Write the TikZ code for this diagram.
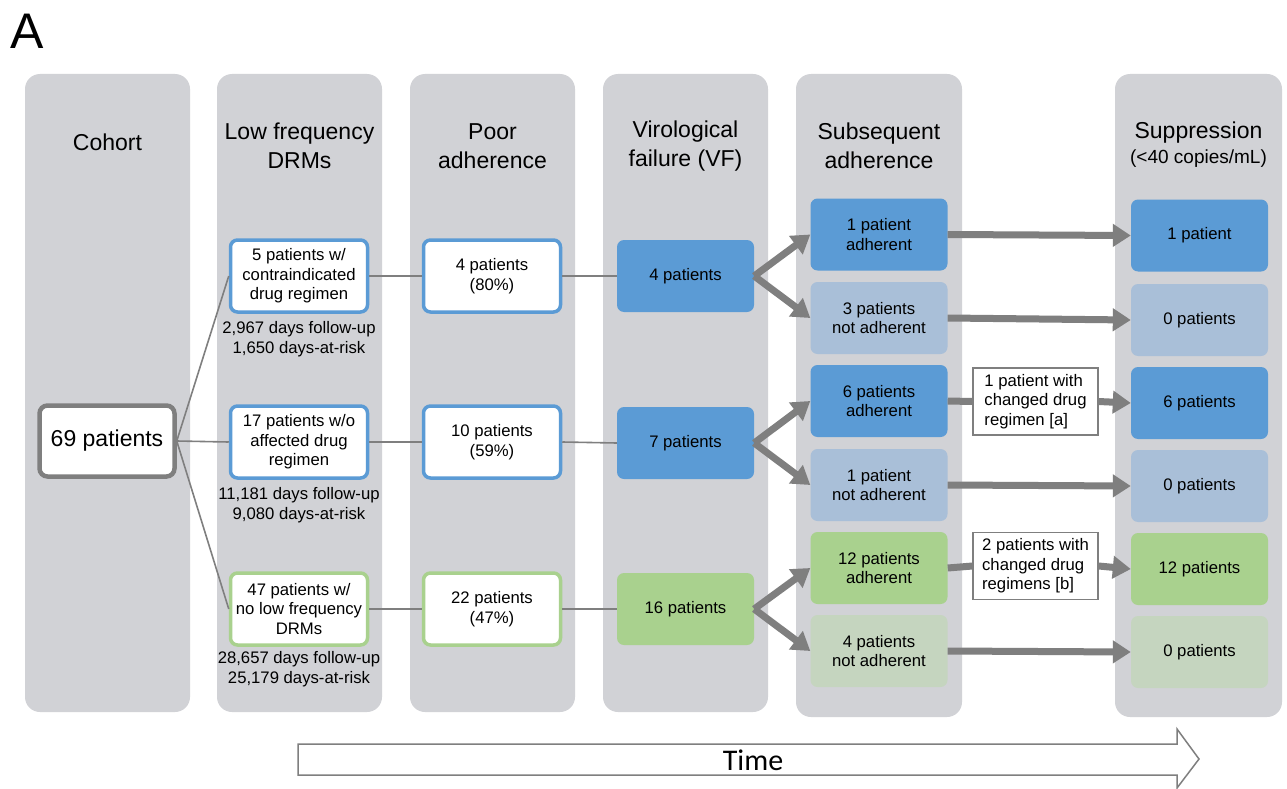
\documentclass[tikz,border=0pt]{standalone}
\usepackage{fontspec}
\setmainfont{Liberation Sans}
\newfontfamily\timefont{Carlito}
\usetikzlibrary{arrows.meta}

\definecolor{lanegray}{HTML}{D1D2D6}
\definecolor{boxblue}{HTML}{5B9BD5}
\definecolor{paleblue}{HTML}{A9BFD8}
\definecolor{boxgreen}{HTML}{A9D18E}
\definecolor{palegreen}{HTML}{C5D5BF}
\definecolor{arrgray}{HTML}{7F7F7F}

\begin{document}
\begin{tikzpicture}[x=1pt,y=-1pt,
  lane/.style={fill=lanegray, rounded corners=15pt},
  header/.style={align=center, font=\fontsize{23}{29}\selectfont},
  boxtext/.style={font=\fontsize{16.7}{19.5}\selectfont},
  wbox/.style={boxtext, draw=#1, line width=3.5pt, fill=white, rounded corners=7pt,
               minimum width=137pt, minimum height=72pt, align=center, inner sep=2pt},
  fbox/.style={boxtext, fill=#1, rounded corners=7pt,
               minimum width=137pt, minimum height=72pt, align=center},
  chgbox/.style={boxtext, draw=arrgray, line width=1.2pt, fill=white, align=left,
                 minimum width=125pt, minimum height=67pt, inner sep=2pt},
  link/.style={draw=arrgray, line width=1.6pt},
  fat/.style={draw=arrgray, line width=7pt},
  fatarrow/.style={fat, -{Triangle[length=18pt,width=22pt]}},
]
\fill[white] (0,0) rectangle (1287,789);
\useasboundingbox (0,0) rectangle (1287,789);

\node[font=\fontsize{50}{50}\selectfont] (lbl) at (27,31) {A};

% lanes
\fill[lane] (25,74) rectangle (190,712);
\fill[lane] (217,74) rectangle (382,712);
\fill[lane] (410,74) rectangle (575,712);
\fill[lane] (603,74) rectangle (768,712);
\fill[lane] (796,74) rectangle (962,717);
\fill[lane] (1115,74) rectangle (1282,717);

\node[header] (hcoh) at (107.5,142) {Cohort};
\node[header] (hlf) at (299.5,146) {Low frequency\\DRMs};
\node[header] (hpa) at (492.5,146) {Poor\\adherence};
\node[header] (hvf) at (685.5,146) {Virological\\failure (VF)};
\node[header] (hsa) at (879,146) {Subsequent\\adherence};
\node[header] (hsup) at (1198.5,145) {Suppression\\[-4pt]{\fontsize{19}{22}\selectfont(<40 copies/mL)}};

% cohort
\node[font=\fontsize{23}{27}\selectfont, draw=arrgray, line width=4.5pt, fill=white,
      rounded corners=8pt, minimum width=135pt, minimum height=71pt] (cohort) at (107,441) {69 patients};

\node[wbox=boxblue] (lf1) at (299,276) {5 patients w/\\contraindicated\\drug regimen};
\node[wbox=boxblue] (lf2) at (299,442) {17 patients w/o\\affected drug\\regimen};
\node[wbox=boxgreen] (lf3) at (299,609) {47 patients w/\\no low frequency\\DRMs};
\node[boxtext, align=center] (d1) at (299,339) {2,967 days follow-up\\1,650 days-at-risk};
\node[boxtext, align=center] (d2) at (299,505) {11,181 days follow-up\\9,080 days-at-risk};
\node[boxtext, align=center] (d3) at (299,669) {28,657 days follow-up\\25,179 days-at-risk};

\node[wbox=boxblue] (pa1) at (492,276) {4 patients\\(80\%)};
\node[wbox=boxblue] (pa2) at (492,442) {10 patients\\(59\%)};
\node[wbox=boxgreen] (pa3) at (492,609) {22 patients\\(47\%)};

\node[fbox=boxblue] (vf1) at (685.5,276) {4 patients};
\node[fbox=boxblue] (vf2) at (685.5,443) {7 patients};
\node[fbox=boxgreen] (vf3) at (685.5,609) {16 patients};

\node[fbox=boxblue] (sa1) at (879,234.5) {1 patient\\adherent};
\node[fbox=paleblue] (sa2) at (879,318) {3 patients\\not adherent};
\node[fbox=boxblue] (sa3) at (879,401) {6 patients\\adherent};
\node[fbox=paleblue] (sa4) at (879,485) {1 patient\\not adherent};
\node[fbox=boxgreen] (sa5) at (879,568) {12 patients\\adherent};
\node[fbox=palegreen] (sa6) at (879,651) {4 patients\\not adherent};

\node[fbox=boxblue] (sup1) at (1199.5,235.5) {1 patient};
\node[fbox=paleblue] (sup2) at (1199.5,320) {0 patients};
\node[fbox=boxblue] (sup3) at (1199.5,403) {6 patients};
\node[fbox=paleblue] (sup4) at (1199.5,486) {0 patients};
\node[fbox=boxgreen] (sup5) at (1199.5,569) {12 patients};
\node[fbox=palegreen] (sup6) at (1199.5,652) {0 patients};

\node[chgbox] (chg1) at (1035.5,401.5) {1 patient with\\changed drug\\regimen [a]};
\node[chgbox] (chg2) at (1035.5,566) {2 patients with\\changed drug\\regimens [b]};

\draw[link] (cohort.east) -- (lf1.west);
\draw[link] (cohort.east) -- (lf2.west);
\draw[link] (cohort.east) -- (lf3.west);
\draw[link] (lf1.east) -- (pa1.west);
\draw[link] (lf2.east) -- (pa2.west);
\draw[link] (lf3.east) -- (pa3.west);
\draw[link] (pa1.east) -- (vf1.west);
\draw[link] (pa2.east) -- (vf2.west);
\draw[link] (pa3.east) -- (vf3.west);

\draw[fatarrow] (vf1.east) -- (sa1.west);
\draw[fatarrow] (vf1.east) -- (sa2.west);
\draw[fatarrow] (vf2.east) -- (sa3.west);
\draw[fatarrow] (vf2.east) -- (sa4.west);
\draw[fatarrow] (vf3.east) -- (sa5.west);
\draw[fatarrow] (vf3.east) -- (sa6.west);

\draw[fatarrow] (sa1.east) -- (sup1.west);
\draw[fatarrow] (sa2.east) -- (sup2.west);
\draw[fat] (sa3.east) -- (chg1.west);
\draw[fatarrow] (chg1.east) -- (sup3.west);
\draw[fatarrow] (sa4.east) -- (sup4.west);
\draw[fat] (sa5.east) -- (chg2.west);
\draw[fatarrow] (chg2.east) -- (sup5.west);
\draw[fatarrow] (sa6.east) -- (sup6.west);

% time arrow
\draw[draw=arrgray, line width=1.5pt, fill=white] (298,744) -- (1177,744) -- (1177,729)
  -- (1199,759) -- (1177,788) -- (1177,775) -- (298,775) -- cycle;
\node[font=\timefont\fontsize{30}{30}\selectfont] (time) at (753,760) {Time};
\end{tikzpicture}
\end{document}
